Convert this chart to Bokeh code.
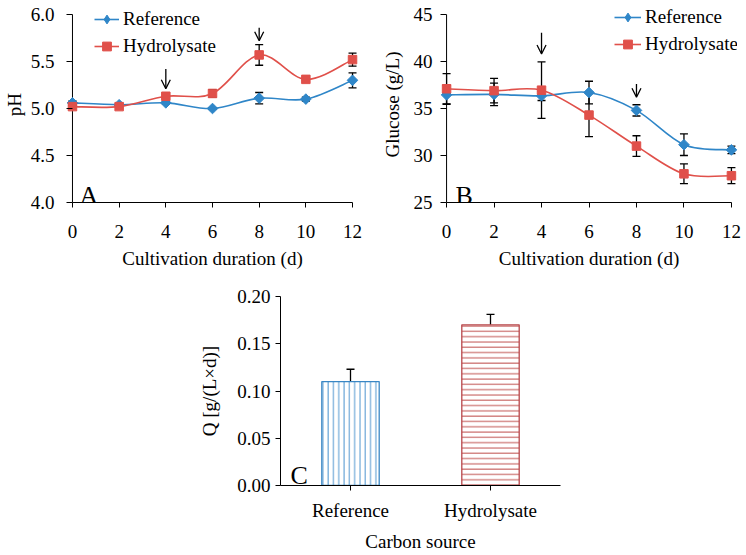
import numpy as np
from bokeh.plotting import figure
from bokeh.models import (ColumnDataSource, Whisker, TeeHead, Arrow, OpenHead, Label,
                          Legend, LegendItem, FixedTicker, PrintfTickFormatter, Range1d,
                          FactorRange, Spacer)
from bokeh.layouts import column, row
from bokeh.embed import file_html
from bokeh.resources import INLINE

# ---------------- data ----------------
days = [0, 2, 4, 6, 8, 10, 12]
day_ticks = [0, 2, 4, 6, 8, 10, 12]

ph_ref = [5.06, 5.04, 5.06, 5.00, 5.11, 5.10, 5.30]
ph_ref_err = [0.02, 0.01, 0.01, 0.01, 0.06, 0.02, 0.08]
ph_hyd = [5.02, 5.02, 5.13, 5.16, 5.57, 5.31, 5.52]
ph_hyd_err = [0.01, 0.01, 0.02, 0.04, 0.11, 0.01, 0.07]
ph_ticks = [4.0, 4.5, 5.0, 5.5, 6.0]
ph_arrow_x = [4, 8]
ph_arrow_top = [5.42, 5.86]
ph_arrow_bot = [5.21, 5.72]

glu_ref = [36.45, 36.5, 36.35, 36.7, 34.8, 31.15, 30.6]
glu_ref_err = [1.0, 1.2, 0.5, 1.2, 0.6, 1.15, 0.4]
glu_hyd = [37.1, 36.9, 36.95, 34.3, 31.0, 28.05, 27.85]
glu_hyd_err = [1.6, 1.3, 3.0, 2.3, 1.1, 1.05, 0.85]
glu_ticks = [25, 30, 35, 40, 45]
glu_arrow_x = [4, 8]
glu_arrow_top = [43.05, 37.6]
glu_arrow_bot = [40.8, 36.2]

q_cat = ["Reference", "Hydrolysate"]
q_val = [0.11, 0.17]
q_err = [0.013, 0.011]
q_ticks = [0.0, 0.05, 0.10, 0.15, 0.20]

series_names = ["Reference", "Hydrolysate"]

FONT = "Liberation Serif"
FS = "19px"
BLUE = "#2f86c8"
RED = "#e0504a"
PAD = 0.256  # x-range padding (days) so end markers are not clipped


def style_axes(p):
    for ax in p.axis:
        ax.axis_line_color = "black"
        ax.axis_line_width = 1
        ax.major_tick_line_color = "black"
        ax.minor_tick_line_color = None
        ax.major_tick_in = 0
        ax.major_tick_out = 5
        ax.major_label_text_font = FONT
        ax.major_label_text_font_size = FS
        ax.major_label_text_color = "black"
        ax.axis_label_text_font = FONT
        ax.axis_label_text_font_size = FS
        ax.axis_label_text_font_style = "normal"
        ax.axis_label_text_color = "black"
    p.xgrid.visible = False
    p.ygrid.visible = False
    p.outline_line_color = None


def smooth(xs, ys):
    n = len(xs)
    out = {k: [] for k in ("x0", "y0", "x1", "y1", "cx0", "cy0", "cx1", "cy1")}
    for i in range(n - 1):
        xp, yp = (xs[i - 1], ys[i - 1]) if i > 0 else (xs[i], ys[i])
        xn, yn = (xs[i + 2], ys[i + 2]) if i + 2 < n else (xs[i + 1], ys[i + 1])
        out["x0"].append(xs[i]); out["y0"].append(ys[i])
        out["x1"].append(xs[i + 1]); out["y1"].append(ys[i + 1])
        out["cx0"].append(xs[i] + (xs[i + 1] - xp) / 6.0)
        out["cy0"].append(ys[i] + (ys[i + 1] - yp) / 6.0)
        out["cx1"].append(xs[i + 1] - (xn - xs[i]) / 6.0)
        out["cy1"].append(ys[i + 1] - (yn - ys[i]) / 6.0)
    return out


def line_panel(width, bl, br, yticks, ytop, yfmt, ref, ref_err, hyd, hyd_err,
               ylabel, ylab_std, ytick_std, letter, letter_x, ax_x, ax_top, ax_bot,
               leg_x, leg_y, glyph_w):
    p = figure(width=width, height=280, x_range=Range1d(-PAD, 12 + PAD),
               y_range=Range1d(yticks[0], ytop), output_backend="svg", toolbar_location=None,
               min_border_left=bl, min_border_right=br, min_border_top=6, min_border_bottom=78)
    style_axes(p)
    p.xaxis.bounds = (day_ticks[0], day_ticks[-1])
    p.xaxis.ticker = FixedTicker(ticks=day_ticks)
    p.xaxis.major_label_standoff = 17
    p.xaxis.axis_label = "Cultivation duration (d)"
    p.xaxis.axis_label_standoff = 7
    # y axis: labels from the standard axis, line drawn at day 0
    p.yaxis.ticker = FixedTicker(ticks=yticks)
    p.yaxis.formatter = PrintfTickFormatter(format=yfmt)
    p.yaxis.axis_line_color = None
    p.yaxis.major_tick_in = 6
    p.yaxis.major_tick_out = 0
    p.yaxis.major_label_standoff = ytick_std
    p.yaxis.axis_label = ylabel
    p.yaxis.axis_label_standoff = ylab_std
    p.segment(x0=[day_ticks[0]], y0=[yticks[0]], x1=[day_ticks[0]], y1=[yticks[-1]],
              line_color="black", line_width=1)

    items = []
    specs = [(ref, ref_err, BLUE, "square", np.pi / 4, 7.5, "diamond", series_names[0]),
             (hyd, hyd_err, RED, "square", 0.0, 8.5, "square", series_names[1])]
    for ys, err, color, marker, ang, size, leg_marker, name in specs:
        seg = smooth(days, ys)
        bz = p.bezier(source=ColumnDataSource(seg), x0="x0", y0="y0", x1="x1", y1="y1",
                      cx0="cx0", cy0="cy0", cx1="cx1", cy1="cy1", line_color=color,
                      line_width=1.6)
        src = ColumnDataSource(dict(x=days, y=ys,
                                    upper=[a + b for a, b in zip(ys, err)],
                                    lower=[a - b for a, b in zip(ys, err)]))
        p.scatter("x", "y", source=src, marker=marker, angle=ang, size=size,
                  fill_color=color, line_color=color)
        # legend-only marker proxy (draws nothing in the plot)
        proxy = p.scatter(x=[np.nan], y=[np.nan], marker=leg_marker, size=size,
                          fill_color=color, line_color=color)
        p.add_layout(Whisker(source=src, base="x", upper="upper", lower="lower",
                             line_color="black", line_width=1.3,
                             upper_head=TeeHead(size=8, line_color="black", line_width=1.3),
                             lower_head=TeeHead(size=8, line_color="black", line_width=1.3)))
        items.append(LegendItem(label=name, renderers=[bz, proxy]))

    asrc = ColumnDataSource(dict(x=ax_x, top=ax_top, bot=ax_bot))
    p.add_layout(Arrow(source=asrc, x_start="x", y_start="top", x_end="x", y_end="bot",
                       line_color="black", line_width=1.3,
                       end=OpenHead(size=9, line_color="black", line_width=1.3)))

    leg = Legend(items=items, location=(leg_x, leg_y), orientation="vertical",
                 glyph_width=glyph_w, glyph_height=22, label_standoff=4, spacing=5,
                 padding=0, margin=0, border_line_color=None, background_fill_alpha=0,
                 label_text_font=FONT, label_text_font_size=FS, label_height=20,
                 label_text_color="black")
    p.add_layout(leg)

    p.add_layout(Label(x=letter_x, y=7, x_units="screen", y_units="screen", text=letter,
                       text_font=FONT, text_font_size="26px", text_color="black",
                       text_baseline="alphabetic"))
    return p


pA = line_panel(373, 65, 15, ph_ticks, 4.0 + 196 / 94.0, "%.1f", ph_ref, ph_ref_err,
                ph_hyd, ph_hyd_err, "pH", 3, 12, "A", 13, ph_arrow_x, ph_arrow_top,
                ph_arrow_bot, 28, 145, 25)
pB = line_panel(373, 67, 9, glu_ticks, 25 + 196 / 9.4, "%d", glu_ref, glu_ref_err,
                glu_hyd, glu_hyd_err, "Glucose (g/L)", 8, 8, "B", 15, glu_arrow_x,
                glu_arrow_top, glu_arrow_bot, 174, 147, 27)

# ---------------- panel C ----------------
pC = figure(width=380, height=275, x_range=FactorRange(*q_cat), y_range=Range1d(0, 0.2),
            output_backend="svg", toolbar_location=None, min_border_left=88,
            min_border_right=12, min_border_top=16, min_border_bottom=70)
style_axes(pC)
pC.yaxis.ticker = FixedTicker(ticks=q_ticks)
pC.yaxis.formatter = PrintfTickFormatter(format="%.2f")
pC.yaxis.major_label_standoff = 5
pC.yaxis.axis_label = "Q [g/(L×d)]"
pC.yaxis.axis_label_standoff = 14
pC.xaxis.major_label_standoff = 9
pC.xaxis.axis_label = "Carbon source"
pC.xaxis.axis_label_standoff = 7

bsrc = ColumnDataSource(dict(cat=q_cat, val=q_val,
                             upper=[a + b for a, b in zip(q_val, q_err)],
                             lower=[a - b for a, b in zip(q_val, q_err)],
                             lc=["#3a87c4", "#b8474b"], hc=["#4f95cf", "#c0504d"],
                             hp=["vertical_line", "horizontal_line"]))
pC.vbar(x="cat", top="val", width=0.41, source=bsrc, fill_color="white",
        line_color="lc", line_width=1.3, hatch_pattern="hp", hatch_color="hc",
        hatch_scale=5.3, hatch_weight=1)
pC.add_layout(Whisker(source=bsrc, base="cat", upper="upper", lower="lower",
                      line_color="black", line_width=1.3,
                      upper_head=TeeHead(size=8, line_color="black", line_width=1.3),
                      lower_head=TeeHead(size=8, line_color="black", line_width=1.3)))
pC.add_layout(Label(x=10, y=10, x_units="screen", y_units="screen", text="C",
                    text_font=FONT, text_font_size="26px", text_color="black",
                    text_baseline="alphabetic"))

layout = column(row(pA, pB), row(Spacer(width=192, height=275), pC))
open("out.html", "w").write(file_html(layout, INLINE))
